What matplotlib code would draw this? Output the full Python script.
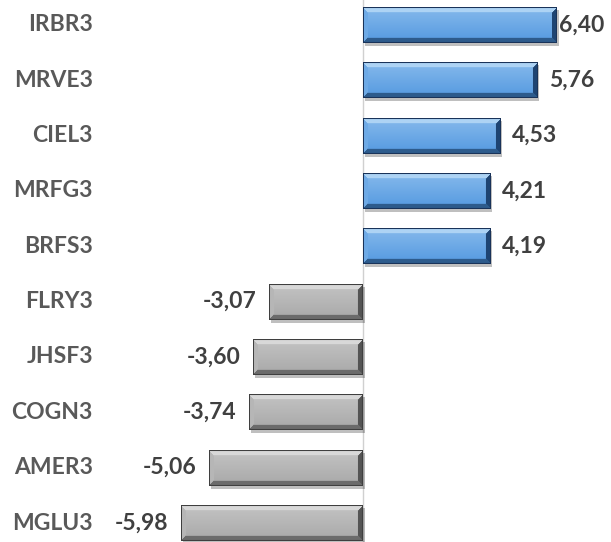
import numpy as np
import matplotlib.pyplot as plt
from matplotlib.patches import Rectangle

tickers = ['IRBR3', 'MRVE3', 'CIEL3', 'MRFG3', 'BRFS3',
           'FLRY3', 'JHSF3', 'COGN3', 'AMER3', 'MGLU3']
values = [6.40, 5.76, 4.53, 4.21, 4.19, -3.07, -3.60, -3.74, -5.06, -5.98]

plt.rcParams['font.family'] = ['Lato', 'DejaVu Sans']

W, H = 611, 542
fig = plt.figure(figsize=(W / 100, H / 100), dpi=100)
# axes placed so the zero line sits near x=363px and rows are ~55px apart
ax = fig.add_axes([120 / W, -0.016, 485 / W, 1.021])
ax.set_xlim(-8, 8)
ax.set_ylim(len(tickers) - 0.5, -0.5)
ax.axis('off')

ypos = np.arange(len(tickers))
bars = ax.barh(ypos, values, height=0.65, color='none', edgecolor='none', zorder=3)


def bevel_image(wpx, hpx, face, light, dark, side_dark, edge):
    b = 5
    img = np.zeros((hpx, wpx, 3))
    yy, xx = np.mgrid[0:hpx, 0:wpx]
    # face gradient: lighter at top
    t = yy / max(hpx - 1, 1)
    base = np.array(light) * (1 - t[..., None]) * 0.55 + np.array(face) * (0.45 + 0.55 * t[..., None])
    img[:] = base
    dtop, dbot, dl, dr = yy, hpx - 1 - yy, xx, wpx - 1 - xx
    dmin = np.minimum(np.minimum(dtop, dbot), np.minimum(dl, dr))
    inb = dmin < b
    top = inb & (dtop == dmin)
    bot = inb & (dbot == dmin) & ~top
    left = inb & (dl == dmin) & ~top & ~bot
    right = inb & (dr == dmin) & ~top & ~bot & ~left
    img[top] = light
    img[bot] = dark
    img[left] = np.array(face) * 0.7 + np.array(light) * 0.3
    img[right] = side_dark
    img[dmin < 1] = edge
    return img


blue = dict(face=(0.33, 0.60, 0.88), light=(0.68, 0.83, 0.96),
            dark=(0.18, 0.36, 0.55), side_dark=(0.12, 0.27, 0.45), edge=(0.10, 0.20, 0.35))
grey = dict(face=(0.66, 0.66, 0.66), light=(0.85, 0.85, 0.85),
            dark=(0.42, 0.42, 0.42), side_dark=(0.33, 0.33, 0.33), edge=(0.25, 0.25, 0.25))

xscale = 485 / 16
ypix = ax.get_position().height * H / 10

fig.canvas.draw()
renderer = fig.canvas.get_renderer()

for bar, v in zip(bars, values):
    x0, y0 = bar.get_x(), bar.get_y()
    w, h = bar.get_width(), bar.get_height()
    sty = blue if v > 0 else grey
    wpx = max(int(abs(w) * xscale), 4)
    hpx = max(int(h * ypix), 4)
    img = bevel_image(wpx, hpx, **sty)
    xa, xb = min(x0, x0 + w), max(x0, x0 + w)
    # soft shadow
    ax.add_patch(Rectangle((xa + 2 / xscale, y0 + 3 / ypix), xb - xa, h,
                           facecolor='black', alpha=0.25, edgecolor='none', zorder=2))
    ax.imshow(img, extent=(xa, xb, y0 + h, y0), aspect='auto',
              interpolation='bilinear', zorder=4)
    label = f'{v:.2f}'.replace('.', ',')
    if v > 0:
        txt = ax.text(xb + 12 / xscale, y0 + h / 2, label, ha='left', va='center',
                      fontsize=16.5, fontweight='bold', color='#404040', clip_on=False)
        # keep the label inside the picture like the spreadsheet does
        ext = txt.get_window_extent(renderer)
        if ext.x1 > W - 2:
            txt.set_x(xb + 3 / xscale)
    else:
        ax.text(xa - 13 / xscale, y0 + h / 2, label, ha='right', va='center',
                fontsize=16.5, fontweight='bold', color='#404040')

ax.set_xlim(-8, 8)
ax.set_ylim(len(tickers) - 0.5, -0.5)
ax.axvline(0, color='#d0d0d0', lw=1, zorder=1)

for y, t in zip(ypos, tickers):
    ax.text(-8 - 27 / xscale, y, t, ha='right', va='center', fontsize=16.5,
            fontweight='bold', color='#595959', clip_on=False)

fig.savefig('out.png', dpi=100)
